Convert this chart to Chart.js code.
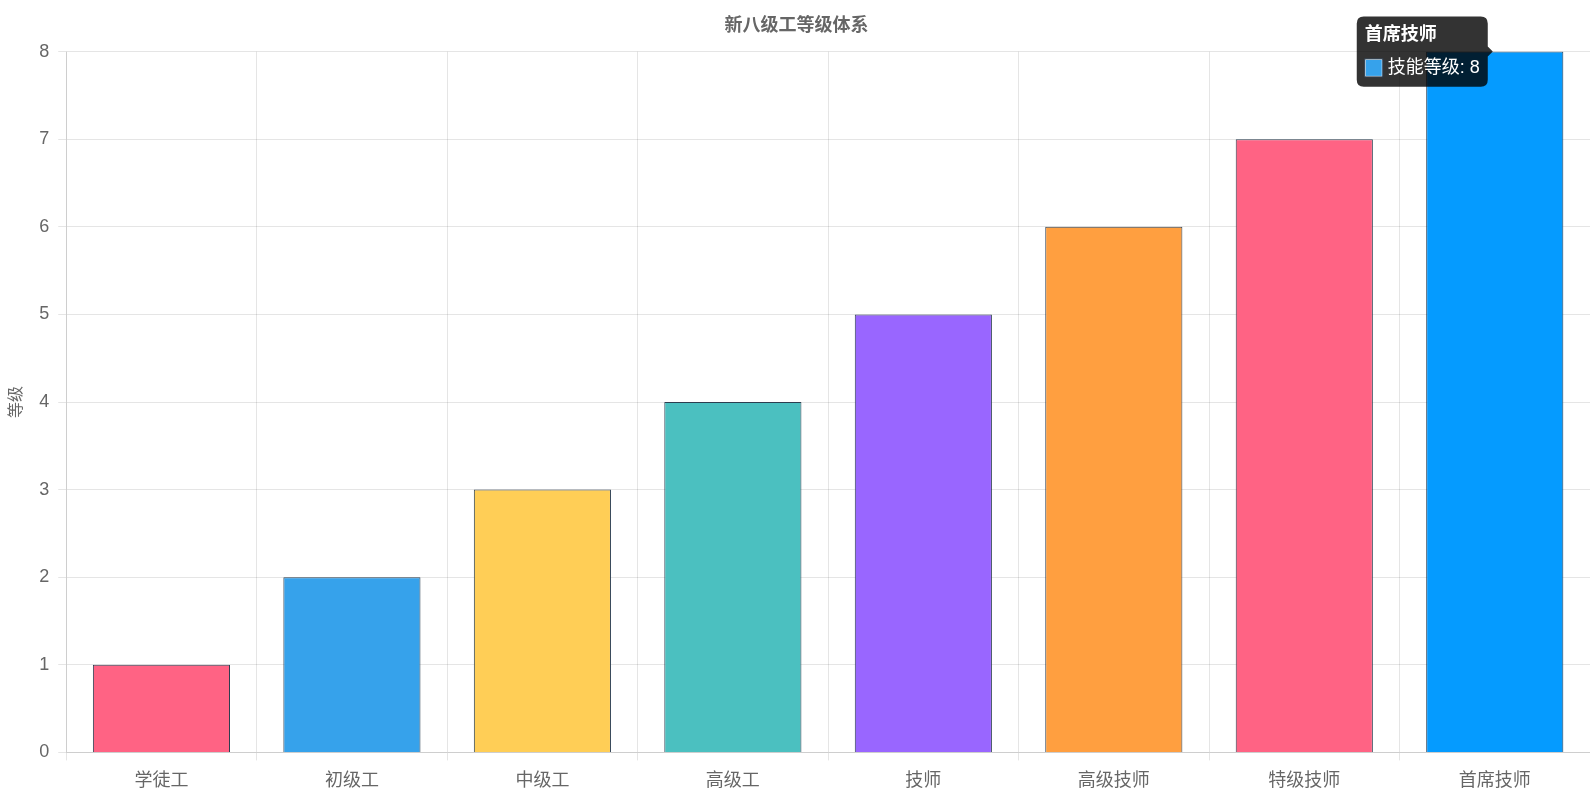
<!DOCTYPE html>
<html>
<head>
<meta charset="utf-8">
<script src="https://cdn.jsdelivr.net/npm/chart.js@4"></script>
<style>
  html, body { margin: 0; padding: 0; background: #fff; }
  #wrap { width: 1590px; height: 795px; }
</style>
</head>
<body>
<div id="wrap"><canvas id="chartLevels"></canvas></div>
<script>
// ── Data ─────────────────────────────────────
const LEVELS = ['学徒工', '初级工', '中级工', '高级工', '技师', '高级技师', '特级技师', '首席技师'];
const GRADE  = [1, 2, 3, 4, 5, 6, 7, 8];
const COLORS = ['#FF6384', '#36A2EB', '#FFCE56', '#4BC0C0', '#9966FF', '#FF9F40', '#FF6384', '#36A2EB'];

Chart.defaults.font.family = '"Liberation Sans", "Noto Sans CJK SC", sans-serif';
Chart.defaults.color = '#666';

const GRID = { color: 'rgba(0,0,0,0.1)' };

const chart = new Chart(document.getElementById('chartLevels'), {
  type: 'bar',
  data: {
    labels: LEVELS,
    datasets: [{
      label:           '技能等级',
      data:            GRADE,
      backgroundColor: COLORS,
      borderColor:     '#2c3e50',
      borderWidth:     1,
      barPercentage:   0.9,
      categoryPercentage: 0.8,
    }],
  },
  options: {
    responsive: true,
    maintainAspectRatio: false,
    animation: false,
    layout: { padding: { left: 3, bottom: -7 } },
    plugins: {
      legend: { display: false },
      title: {
        display: true,
        text: '新八级工等级体系',
        font: { size: 18, weight: 'bold' },
        padding: { top: 15, bottom: 15 },
      },
      tooltip: {
        titleFont: { size: 18, weight: 'bold' },
        bodyFont: { size: 18 },
        titleMarginBottom: 11,
        padding: 8,
        boxPadding: 3,
        cornerRadius: 7,
      },
    },
    scales: {
      x: { grid: GRID, ticks: { font: { size: 18 }, padding: 10 } },
      y: {
        beginAtZero: true,
        max: 8,
        grid: GRID,
        ticks: { stepSize: 1, font: { size: 18 }, padding: 9 },
        title: { display: true, text: '等级', font: { size: 16 }, padding: { top: 4, bottom: 4 } },
      },
    },
  },
});

// show tooltip on the last bar, as in the reference
chart.setActiveElements([{ datasetIndex: 0, index: 7 }]);
chart.tooltip.setActiveElements([{ datasetIndex: 0, index: 7 }], { x: 0, y: 0 });
chart.update();
</script>
</body>
</html>
